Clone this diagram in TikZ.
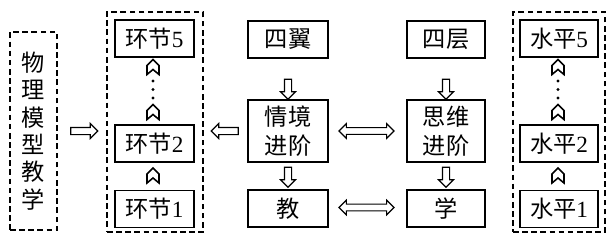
\documentclass[tikz,border=0pt]{standalone}
\usepackage{fontspec}
\setmainfont{Liberation Serif}
\newfontfamily\cjk{Noto Sans CJK SC}
\usetikzlibrary{shapes.arrows}
\newcommand\dg[1]{{\rmfamily #1}}

\begin{document}
\begin{tikzpicture}[
        x=0.025cm, y=-0.025cm,
        box/.style={rectangle, draw, line width=0.8pt, minimum width=2cm, minimum height=0.925cm, inner sep=1pt, font=\cjk\fontsize{16.5}{20.5}\selectfont, align=center},
        frame/.style={rectangle, draw, line width=0.8pt, dash pattern=on 4pt off 2.5pt},
        barr/.style={single arrow, draw, line width=0.8pt, inner xsep=0pt, inner ysep=0.075cm, single arrow head extend=0.1cm, minimum height=#1},
        darr/.style={double arrow, draw, line width=0.8pt, inner xsep=0pt, inner ysep=0.07cm, double arrow head extend=0.1cm, minimum height=1.375cm},
        chev/.pic={\draw[line width=1.1pt, line join=miter] (0,-7.5) -- (6,-1.5) -- (6,7.5) -- (0,2.5) -- (-6,7.5) -- (-6,-1.5) -- cycle;},
        dotmark/.style={circle, fill, inner sep=0pt, minimum size=2.4pt}
    ]
        \useasboundingbox (0,0) rectangle (612,237);

        % Left column
        \node[frame, minimum width=1.175cm, minimum height=4.95cm, font=\cjk\fontsize{16.5}{19.5}\selectfont, align=center] (model) at (33.5,131) {物\\理\\模\\型\\教\\学};
        \node[barr=0.675cm] (a1) at (82.5,131) {};

        % Links
        \node[frame, minimum width=2.4cm, minimum height=5.5cm] (fr2) at (155,122) {};
        \node[box, minimum width=1.975cm] (l5) at (154.5,38.5) {环节\dg{5}};
        \node[box, minimum width=1.975cm] (l2) at (154.5,143.5) {环节\dg{2}};
        \node[box, minimum width=1.975cm] (l1) at (154.5,209) {环节\dg{1}};
        \pic at (153,67) {chev};
        \pic at (153,112) {chev};
        \pic at (153,175.5) {chev};
        \foreach \y in {81,89.5,98} \node[dotmark] at (153,\y) {};
        \node[barr=0.675cm, shape border rotate=180] (a2) at (226.5,131) {};

        % Four wings
        \node[box] (wing) at (288,39.5) {四翼};
        \node[barr=0.5cm, rotate=-90] (a3) at (288,87.5) {};
        \node[box, minimum height=1.55cm] (sit) at (288,131) {情境\\进阶};
        \node[barr=0.5cm, rotate=-90] (a4) at (288,175.5) {};
        \node[box] (teach) at (288,208.5) {教};

        % Double arrows
        \node[darr] (d1) at (366.5,131) {};
        \node[darr] (d2) at (366.5,207.5) {};

        % Four layers
        \node[box, minimum width=1.95cm] (layer) at (446,39.5) {四层};
        \node[barr=0.5cm, rotate=-90] (a5) at (446,87.5) {};
        \node[box, minimum width=1.95cm, minimum height=1.55cm] (think) at (446,131) {思维\\进阶};
        \node[barr=0.5cm, rotate=-90] (a6) at (446,175.5) {};
        \node[box, minimum width=1.95cm] (learn) at (446,208.5) {学};

        % Levels
        \node[frame, minimum width=2.3cm, minimum height=5.5cm] (fr3) at (559,122) {};
        \node[box, minimum width=1.95cm] (v5) at (559,38.5) {水平\dg{5}};
        \node[box, minimum width=1.95cm] (v2) at (559,143.5) {水平\dg{2}};
        \node[box, minimum width=1.95cm] (v1) at (559,209) {水平\dg{1}};
        \pic at (558,67) {chev};
        \pic at (558,112) {chev};
        \pic at (558,175.5) {chev};
        \foreach \y in {81,89.5,98} \node[dotmark] at (558,\y) {};
\end{tikzpicture}
\end{document}
